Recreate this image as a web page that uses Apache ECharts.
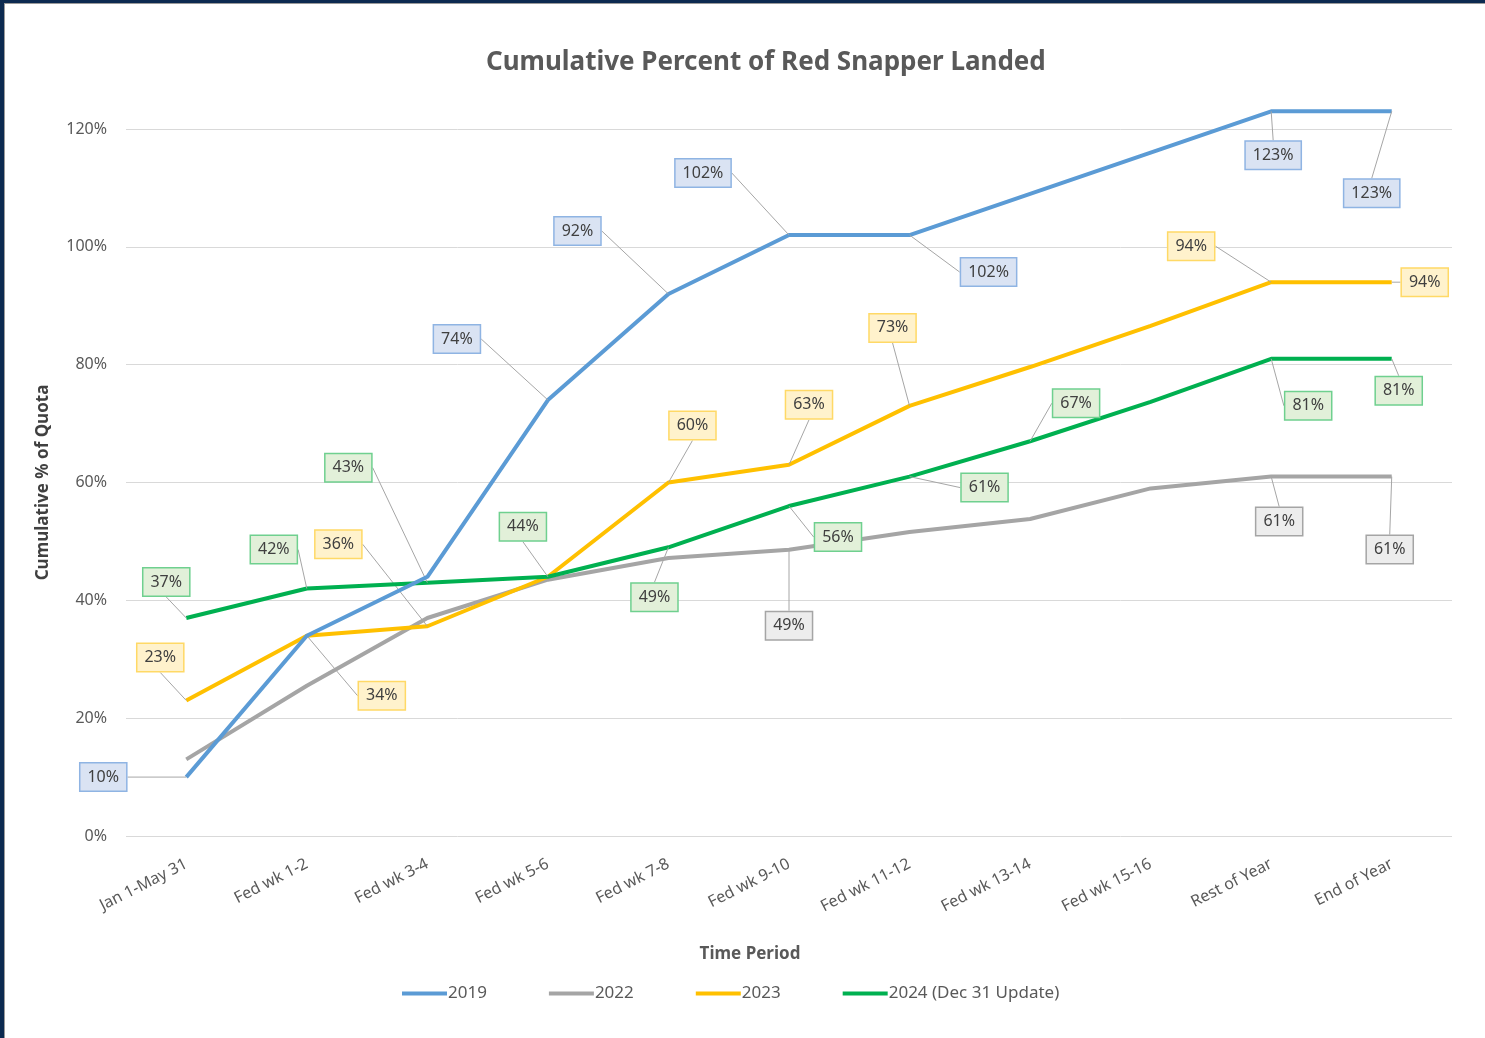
<!DOCTYPE html>
<html lang="en">
<head>
  <meta charset="UTF-8">
  <title>Cumulative Percent of Red Snapper Landed</title>
  <script src="https://cdn.jsdelivr.net/npm/echarts@6/dist/echarts.min.js"></script>
  <style>
    html, body {
      margin: 0;
      padding: 0;
      background: #0c2a50;
      overflow: hidden;
    }
    #chart {
      position: absolute;
      left: 4px;
      top: 3px;
      width: 1480px;
      height: 1034px;
      background: #fff;
      border-left: 1px solid #9a9a9a;
      border-top: 1px solid #9a9a9a;
    }
  </style>
</head>
<body>
  <div id="chart"></div>
  <script>
    // categories on the x axis
    var periods = ['Jan 1-May 31', 'Fed wk 1-2', 'Fed wk 3-4', 'Fed wk 5-6', 'Fed wk 7-8', 'Fed wk 9-10',
      'Fed wk 11-12', 'Fed wk 13-14', 'Fed wk 15-16', 'Rest of Year', 'End of Year'];

    // cumulative % of quota
    var y2019 = [10, 34, 44, 74, 92, 102, 102, 109, 116, 123, 123];
    var y2022 = [13, 25.5, 37, 43.5, 47.2, 48.6, 51.6, 53.8, 59, 61, 61];
    var y2023 = [23, 34, 35.6, 44, 60, 63, 73, 79.6, 86.6, 94, 94];
    var y2024 = [37, 42, 43, 44, 49, 56, 61, 67, 73.7, 81, 81];

    var yTicks = [0, 20, 40, 60, 80, 100, 120];

    // which points get a data label, and where the label box sits (offset from the point)
    var labelOffsets = [
      { 0: [-83, 0], 3: [-91, -61], 4: [-91, -63], 5: [-86, -62], 6: [79, 37], 9: [2, 44], 10: [-20, 82] },
      { 5: [0, 76], 9: [8, 45], 10: [-2, 73] },
      { 0: [-26, -43], 1: [75, 60], 2: [-89, -82], 4: [24, -57], 5: [20, -60], 6: [-17, -78], 9: [-80, -36], 10: [33, 0] },
      { 0: [-20, -36], 1: [-33, -39], 2: [-79, -115], 3: [-25, -50], 4: [-14, 50], 5: [49, 31], 6: [75, 11], 7: [46, -38], 9: [37, 47], 10: [7, 32] }
    ];

    var names = ['2019', '2022', '2023', '2024 (Dec 31 Update)'];
    var lineColors = ['#5b9bd5', '#a5a5a5', '#ffc000', '#00b050'];
    var boxFill = ['#dae3f3', '#ededed', '#fff2cc', '#e2f0d9'];
    var boxBorder = ['#8fb4e3', '#a5a5a5', '#ffd966', '#6fd08f'];
    var font = '"Noto Sans", "Open Sans", sans-serif';

    function makeSeries(values, k) {
      var data = values.map(function (v, i) {
        var item = { value: v };
        if (labelOffsets[k][i]) {
          item.label = { show: true };
          item.labelLine = { show: true };
        }
        return item;
      });
      return {
        name: names[k],
        type: 'line',
        data: data,
        clip: false,
        symbol: 'circle',
        symbolSize: 0.1,
        showSymbol: true,
        z: k === 0 ? 4 : (k === 3 ? 3 : 2),
        itemStyle: { color: lineColors[k] },
        lineStyle: { color: lineColors[k], width: 4 },
        label: {
          show: false,
          position: 'inside',
          formatter: function (p) { return Math.round(p.value) + '%'; },
          fontFamily: font,
          fontSize: 16,
          color: '#404040',
          backgroundColor: boxFill[k],
          borderColor: boxBorder[k],
          borderWidth: 1.5,
          padding: [6, 7, 5, 7]
        },
        labelLine: {
          show: false,
          lineStyle: { color: '#a6a6a6', width: 1 }
        },
        labelLayout: function (p) {
          var o = labelOffsets[k][p.dataIndex];
          if (!o) return {};
          return { dx: o[0], dy: o[1] };
        },
        emphasis: { disabled: true }
      };
    }

    var chart = echarts.init(document.getElementById('chart'));
    chart.setOption({
      animation: false,
      backgroundColor: '#fff',
      title: {
        text: 'Cumulative Percent of Red Snapper Landed',
        left: 476,
        top: 41,
        textStyle: { fontFamily: font, fontSize: 26, fontWeight: 'bold', color: '#595959' }
      },
      grid: { left: 121, right: 33, top: 125, bottom: 202 },
      legend: {
        data: names,
        left: 392,
        top: 976,
        itemWidth: 45,
        itemHeight: 4,
        itemGap: 62,
        icon: 'rect',
        textStyle: { fontFamily: font, fontSize: 17, color: '#595959', padding: [0, 0, 0, -4] }
      },
      xAxis: {
        type: 'category',
        data: periods,
        boundaryGap: true,
        name: 'Time Period',
        nameLocation: 'middle',
        nameGap: 110,
        nameTextStyle: { fontFamily: font, fontSize: 17, fontWeight: 'bold', color: '#595959', padding: [0, 78, 0, 0] },
        axisLine: { show: false },
        axisTick: { show: false },
        axisLabel: {
          rotate: 27,
          margin: 27,
          fontFamily: font,
          fontSize: 16,
          color: '#595959'
        }
      },
      yAxis: {
        type: 'value',
        min: yTicks[0],
        max: yTicks[yTicks.length - 1],
        interval: 20,
        name: 'Cumulative % of Quota',
        nameLocation: 'middle',
        nameGap: 74,
        nameTextStyle: { fontFamily: font, fontSize: 17, fontWeight: 'bold', color: '#404040' },
        axisLine: { show: false },
        axisTick: { show: false },
        axisLabel: {
          margin: 19,
          fontFamily: font,
          fontSize: 16,
          color: '#595959',
          formatter: '{value}%'
        },
        splitLine: { lineStyle: { color: '#d9d9d9', width: 1 } }
      },
      series: [
        makeSeries(y2022, 1),
        makeSeries(y2023, 2),
        makeSeries(y2024, 3),
        makeSeries(y2019, 0)
      ]
    });
  </script>
</body>
</html>
